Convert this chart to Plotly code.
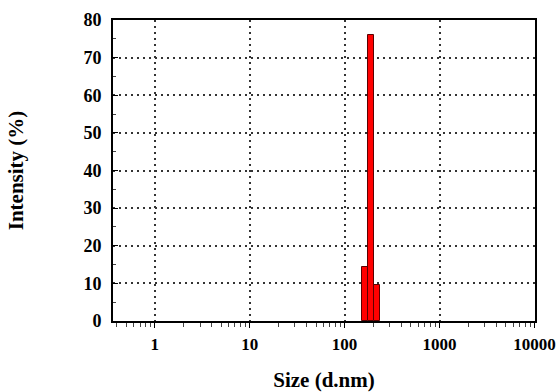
import plotly.graph_objects as go
import numpy as np

# Data
size_nm = [164.2, 190.1, 220.2]
intensity = [14.4, 75.9, 9.7]
x_tickvals = [1, 10, 100, 1000, 10000]
x_ticktext = ["1", "10", "100", "1000", "10000"]
y_tickvals = [0, 10, 20, 30, 40, 50, 60, 70, 80]

# bin edges in log space (geometric)
logc = np.log10(size_nm)
step = np.mean(np.diff(logc))
lo = 10 ** (logc - step / 2)
hi = 10 ** (logc + step / 2)

fig = go.Figure()
fig.add_trace(go.Bar(
    x=lo, y=intensity, width=hi - lo, offset=0,
    marker=dict(color="#ff0000", line=dict(color="#5a0000", width=1)),
))

minor_x = [m * 10 ** e for e in range(-1, 4) for m in range(2, 10) if 0.36 < m * 10 ** e < 10000]

font = "Liberation Serif"
fig.update_layout(
    width=556, height=392,
    margin=dict(l=113, r=21, t=20, b=71),
    paper_bgcolor="white", plot_bgcolor="white",
    showlegend=False,
    font=dict(family=font, color="black"),
    bargap=0,
)
fig.update_xaxes(
    type="log", range=[-0.44, 4.006],
    tickvals=x_tickvals, ticktext=x_ticktext,
    tickfont=dict(family=font, size=17, weight="bold"),
    ticks="outside", ticklen=5, tickcolor="black", tickwidth=1,
    minor=dict(tickvals=minor_x, ticks="outside", ticklen=4, tickcolor="#444"),
    showline=True, linecolor="black", linewidth=2, mirror=True,
    showgrid=True, gridcolor="#333", griddash="1.5px,4.5px", gridwidth=1.5,
    zeroline=False, automargin=False,
    ticklabelstandoff=2, ticklabeloverflow="allow",
    title=dict(text="Size (d.nm)", font=dict(family=font, size=21, weight="bold"), standoff=22),
)
fig.update_yaxes(
    range=[0, 80],
    tickvals=y_tickvals,
    tickfont=dict(family=font, size=18, weight="bold"),
    ticks="inside", ticklen=5, tickcolor="black",
    minor=dict(dtick=5, ticks="inside", ticklen=3, tickcolor="#444"),
    showline=True, linecolor="black", linewidth=2, mirror=True,
    showgrid=True, gridcolor="#333", griddash="1.5px,4.5px", gridwidth=1.5,
    zeroline=False, automargin=False,
    ticklabelstandoff=6,
    title=dict(text="Intensity (%)", font=dict(family=font, size=21, weight="bold"), standoff=54),
)
fig.write_html(
    "out.html",
    config={"displayModeBar": False},
    post_script="document.body.style.margin='0';document.body.style.overflow='hidden';",
)
